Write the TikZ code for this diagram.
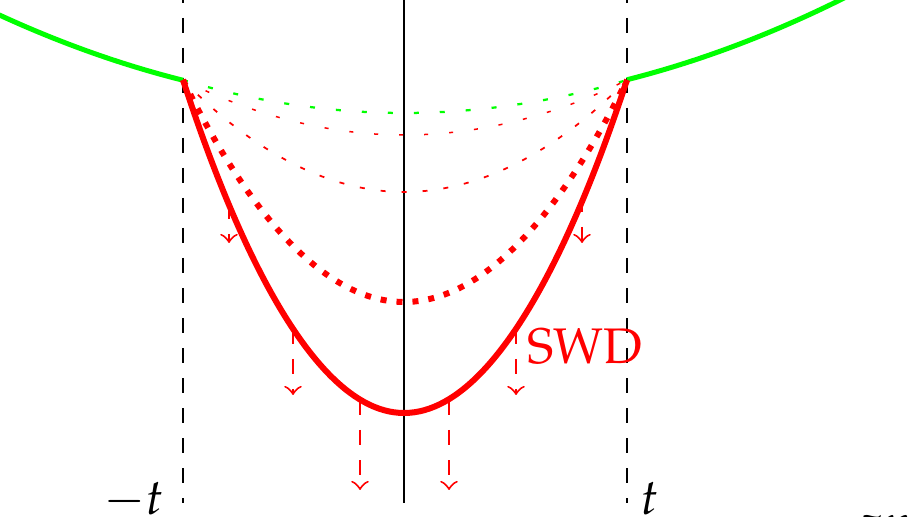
\documentclass[tikz,border=0pt]{standalone}
\usepackage[T1]{fontenc}
\usepackage{mathpazo}
\usepackage{tikz}
\usetikzlibrary{arrows,calc,positioning}
\tikzstyle{axis}  =[black, line width=0.4pt]
\tikzstyle{wall}  =[black, dashed, line width=0.4pt]
\tikzstyle{outer} =[green, line width=1pt]
\tikzstyle{front} =[red, line width=1.2pt]
\tikzstyle{drop}  =[red, dashed, line width=0.4pt, ->, >=to]
\tikzstyle{tag}   =[inner sep=0pt, anchor=base]

\begin{document}
\begin{tikzpicture}[x=0.2pt, y=-0.2pt]
    \useasboundingbox (0,0) rectangle (918,517);
    \begin{scope}
        \clip (0,0) rectangle (918,517);
        \coordinate (L) at (183,80);
        \coordinate (R) at (627,80);
        % walls and axis
        \draw[wall] (183,-12) -- (183,503);
        \draw[wall] (627,-12) -- (627,503);
        \draw[axis] (404,-5) -- (404,503);
        % outer profile
        \draw[outer] plot[domain=-10:183, samples=40]
            (\x, {108-5.68*((\x-404)/100)^2});
        \draw[outer] plot[domain=627:930, samples=40]
            (\x, {108-5.68*((\x-404)/100)^2});
        % successive fronts
        \draw[green, line width=0.45pt, dash pattern=on 1pt off 4.2pt]
            (L) parabola bend (404,113) (R);
        \draw[red, line width=0.3pt, dash pattern=on 0.8pt off 4.2pt]
            (L) parabola bend (404,135) (R);
        \draw[red, line width=0.35pt, dash pattern=on 1pt off 3.2pt]
            (L) parabola bend (404,192) (R);
        \draw[red, very thick, dotted]
            (L) parabola bend (404,302) (R);
        \draw[front] (L) parabola bend (404,413) (R);
        % arrows
        \foreach \x/\a/\b in {229/204/243, 293/329/395, 360/400/490,
                              449/400/490, 516/329/395, 582/197/243} {
            \coordinate (s\x) at (\x,\a);
            \coordinate (e\x) at (\x,\b);
            \draw[drop] (s\x) -- (e\x);
        }
    \end{scope}
    \node[tag] (mt) at (134,514) {$-t$};
    \node[tag] (pt) at (650,514) {$t$};
    \node[tag, red] (swd) at (585,364) {SWD};
    \node[tag] (zl) at (886,540) {$zn$};
\end{tikzpicture}
\end{document}
